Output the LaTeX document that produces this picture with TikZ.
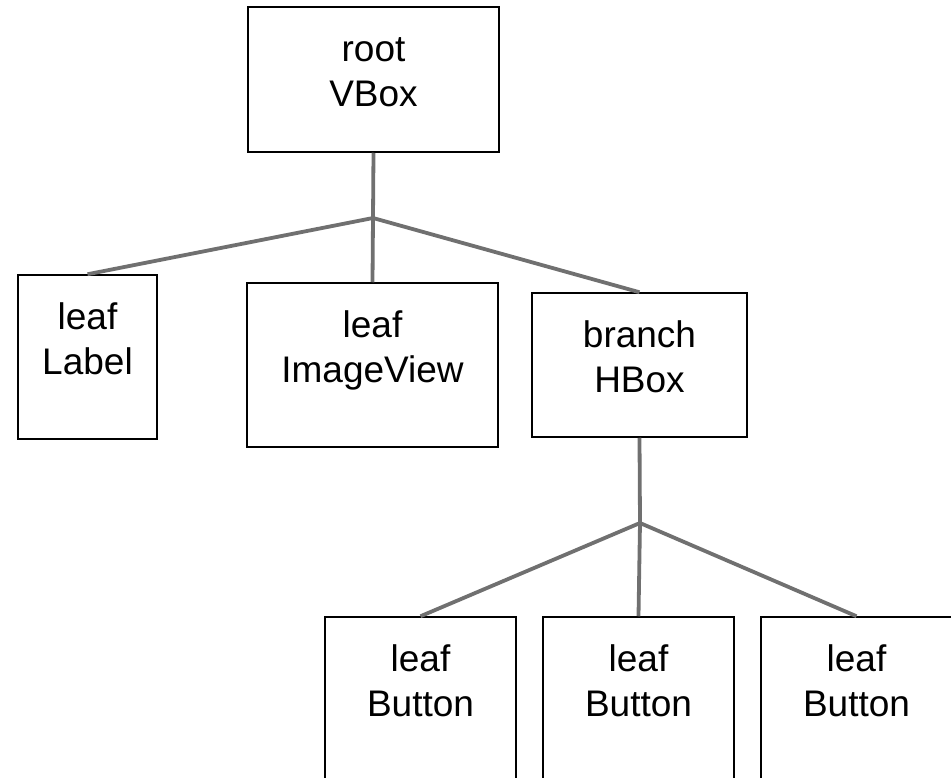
\documentclass[tikz,border=0pt]{standalone}
\usepackage{fontspec}
\setmainfont{Liberation Sans}
\usetikzlibrary{positioning}
\definecolor{edgegray}{RGB}{112,112,112}

\begin{document}
\begin{tikzpicture}[x = 1pt, y = -1pt,
        box/.style = {draw, line width = 1.5pt, inner sep = 0pt},
        txt/.style = {inner sep = 0pt, align = center, font = {\fontsize{37}{45}\selectfont}},
        edge/.style = {draw = edgegray, line width = 3.8pt}]
        \useasboundingbox (0, 0) rectangle (951, 778);
        \clip (0, 0) rectangle (951, 778);

        \node [box, minimum width = 251pt, minimum height = 145pt] (root) at (373.5, 79.5) {};
        \node [box, minimum width = 139pt, minimum height = 164pt] (lbl) at (87.5, 357.0) {};
        \node [box, minimum width = 251pt, minimum height = 164pt] (img) at (372.5, 365.0) {};
        \node [box, minimum width = 215pt, minimum height = 144pt] (hbox) at (639.5, 365.0) {};
        \node [box, minimum width = 191pt, minimum height = 180pt] (btnA) at (420.5, 707.0) {};
        \node [box, minimum width = 191pt, minimum height = 180pt] (btnB) at (638.5, 707.0) {};
        \node [box, minimum width = 191pt, minimum height = 180pt] (btnC) at (856.5, 707.0) {};

        \node [txt, below = 23.5pt of root.north] (rootT) {\strut root\\VBox};
        \node [txt, below = 23.5pt of lbl.north] (lblT) {\strut leaf\\Label};
        \node [txt, below = 23.5pt of img.north] (imgT) {\strut leaf\\ImageView};
        \node [txt, below = 23.5pt of hbox.north] (hboxT) {\strut branch\\HBox};
        \node [txt, below = 23.5pt of btnA.north] (btnAT) {\strut leaf\\Button};
        \node [txt, below = 23.5pt of btnB.north] (btnBT) {\strut leaf\\Button};
        \node [txt, below = 23.5pt of btnC.north] (btnCT) {\strut leaf\\Button};

        \coordinate (j1) at (373, 218);
        \coordinate (j2) at (640, 523);

        \draw [edge] (root.south) -- (j1);
        \draw [edge] (j1) -- (lbl.north);
        \draw [edge] (j1) -- (img.north);
        \draw [edge] (j1) -- (hbox.north);

        \draw [edge] (hbox.south) -- (j2);
        \draw [edge] (j2) -- (btnA.north);
        \draw [edge] (j2) -- (btnB.north);
        \draw [edge] (j2) -- (btnC.north);
    \end{tikzpicture}
\end{document}
